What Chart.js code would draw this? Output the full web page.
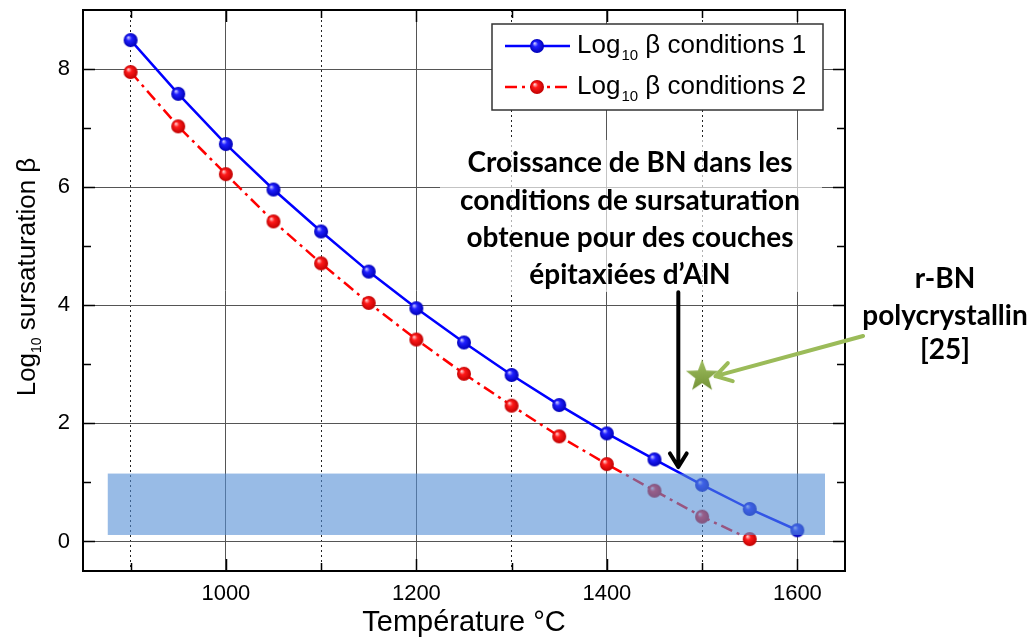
<!DOCTYPE html>
<html>
<head>
<meta charset="utf-8">
<script src="https://cdn.jsdelivr.net/npm/chart.js@4.4.1/dist/chart.umd.min.js"></script>
<style>
  html, body { margin: 0; padding: 0; background: #fff; }
  #wrap { width: 1034px; height: 642px; }
</style>
</head>
<body>
<div id="wrap"><canvas id="chart" width="1034" height="642"></canvas></div>
<script>
// values
const temperatures = [900, 950, 1000, 1050, 1100, 1150, 1200, 1250, 1300, 1350, 1400, 1450, 1500, 1550, 1600];
const logBetaConditions1 = [8.49, 7.58, 6.73, 5.96, 5.25, 4.57, 3.95, 3.37, 2.82, 2.31, 1.83, 1.39, 0.96, 0.55, 0.19];
const logBetaConditions2 = [7.95, 7.03, 6.22, 5.42, 4.71, 4.04, 3.42, 2.84, 2.30, 1.78, 1.31, 0.86, 0.42, 0.04];
const seriesNames = ['conditions 1', 'conditions 2'];
const xMajorTicks = [1000, 1200, 1400, 1600];
const xMinorTicks = [900, 1100, 1300, 1500];
const yMajorTicks = [0, 2, 4, 6, 8];
const yMinorTicks = [1, 3, 5, 7];
const rbnTemperature = [1500];
const rbnLogBeta = [2.8];
const bandTemperatures = [876, 1629];
const bandLogBeta = [0.11, 1.15];
const growthNote = ['Croissance de BN dans les', 'conditions de sursaturation', 'obtenue pour des couches', 'épitaxiées d\u2019AlN'];
const rbnNote = ['r-BN', 'polycrystallin', '[25]'];

const AXIS_FONT = '"Liberation Sans", Arial, sans-serif';
const NOTE_FONT = 'Lato, "Open Sans", sans-serif';

function sphere(light, base, dark, r) {
  const c = document.createElement('canvas');
  c.width = c.height = 2 * r + 2;
  const g = c.getContext('2d');
  const m = r + 1;
  const grad = g.createRadialGradient(m - r * 0.35, m - r * 0.4, r * 0.05, m, m, r);
  grad.addColorStop(0, light);
  grad.addColorStop(0.35, base);
  grad.addColorStop(1, dark);
  g.fillStyle = grad;
  g.beginPath();
  g.arc(m, m, r, 0, Math.PI * 2);
  g.fill();
  return c;
}

function starImage(R, r) {
  const size = 2 * R + 4;
  const c = document.createElement('canvas');
  c.width = c.height = size;
  const g = c.getContext('2d');
  const m = size / 2;
  g.beginPath();
  for (let i = 0; i < 10; i++) {
    const rad = i % 2 === 0 ? R : r;
    const a = -Math.PI / 2 + i * Math.PI / 5;
    const px = m + rad * Math.cos(a), py = m + rad * Math.sin(a);
    if (i === 0) g.moveTo(px, py); else g.lineTo(px, py);
  }
  g.closePath();
  const grad = g.createLinearGradient(0, 0, 0, size);
  grad.addColorStop(0, '#a3c263');
  grad.addColorStop(1, '#6b8a2e');
  g.fillStyle = grad;
  g.fill();
  return c;
}

const blueBall = sphere('#c8c8ff', '#2020ff', '#0000b8', 7);
const redBall = sphere('#ffd0d0', '#ff1a1a', '#c00000', 7);
const greenStar = starImage(17, 7);

function arrow(ctx, x1, y1, x2, y2, color, width, head) {
  const a = Math.atan2(y2 - y1, x2 - x1);
  ctx.save();
  ctx.strokeStyle = color;
  ctx.lineWidth = width;
  ctx.lineCap = 'round';
  ctx.lineJoin = 'round';
  ctx.beginPath();
  ctx.moveTo(x1, y1);
  ctx.lineTo(x2, y2);
  ctx.moveTo(x2 - head * Math.cos(a - 0.55), y2 - head * Math.sin(a - 0.55));
  ctx.lineTo(x2, y2);
  ctx.lineTo(x2 - head * Math.cos(a + 0.55), y2 - head * Math.sin(a + 0.55));
  ctx.stroke();
  ctx.restore();
}

const overlay = {
  id: 'overlay',
  afterDatasetsDraw(chart) {
    const ctx = chart.ctx;
    const xs = chart.scales.x, ys = chart.scales.y;
    const area = chart.chartArea;

    // growth window band, drawn over the curves
    const bx1 = xs.getPixelForValue(bandTemperatures[0]);
    const bx2 = xs.getPixelForValue(bandTemperatures[1]);
    const by1 = ys.getPixelForValue(bandLogBeta[1]);
    const by2 = ys.getPixelForValue(bandLogBeta[0]);
    ctx.save();
    ctx.fillStyle = 'rgba(83, 141, 213, 0.6)';
    ctx.fillRect(bx1, by1, bx2 - bx1, by2 - by1);
    ctx.restore();

    // frame with inner ticks
    ctx.save();
    ctx.strokeStyle = '#000';
    ctx.lineWidth = 2;
    ctx.strokeRect(area.left, area.top, area.right - area.left, area.bottom - area.top);
    ctx.lineWidth = 1.5;
    ctx.beginPath();
    yMinorTicks.forEach(v => {
      const py = Math.round(ys.getPixelForValue(v)) + 0.5;
      ctx.moveTo(area.left, py); ctx.lineTo(area.left + 8, py);
      ctx.moveTo(area.right, py); ctx.lineTo(area.right - 8, py);
    });
    yMajorTicks.forEach(v => {
      const py = Math.round(ys.getPixelForValue(v)) + 0.5;
      ctx.moveTo(area.left, py); ctx.lineTo(area.left + 12, py);
      ctx.moveTo(area.right, py); ctx.lineTo(area.right - 12, py);
    });
    xMajorTicks.forEach(v => {
      const px = Math.round(xs.getPixelForValue(v)) + 0.5;
      ctx.moveTo(px, area.bottom); ctx.lineTo(px, area.bottom - 12);
      ctx.moveTo(px, area.top); ctx.lineTo(px, area.top + 12);
    });
    xMinorTicks.forEach(v => {
      const px = Math.round(xs.getPixelForValue(v)) + 0.5;
      ctx.moveTo(px, area.bottom); ctx.lineTo(px, area.bottom - 8);
      ctx.moveTo(px, area.top); ctx.lineTo(px, area.top + 8);
    });
    ctx.stroke();
    ctx.restore();

    // note box
    ctx.save();
    ctx.fillStyle = 'rgba(255, 255, 255, 0.65)';
    ctx.fillRect(440, 140, 382, 152);
    ctx.fillStyle = '#000';
    ctx.font = 'bold 28px ' + NOTE_FONT;
    ctx.textAlign = 'center';
    ctx.textBaseline = 'middle';
    [163, 201, 238, 275].forEach((y, i) => ctx.fillText(growthNote[i], 630, y));
    ctx.font = 'bold 28px ' + NOTE_FONT;
    [279, 316, 350].forEach((y, i) => ctx.fillText(rbnNote[i], 945, y));
    ctx.restore();

    // arrows
    const ax = xs.getPixelForValue(1475);
    arrow(ctx, ax, ys.getPixelForValue(4.22), ax, ys.getPixelForValue(1.26), '#000', 4, 16);
    arrow(ctx, xs.getPixelForValue(1669), ys.getPixelForValue(3.48),
      xs.getPixelForValue(1514), ys.getPixelForValue(2.80), '#9bbb59', 4, 18);
  },
  afterDraw(chart) {
    const ctx = chart.ctx;
    // y title with subscript
    ctx.save();
    ctx.translate(28, 277);
    ctx.rotate(-Math.PI / 2);
    ctx.fillStyle = '#000';
    ctx.textBaseline = 'middle';
    const big = '26px ' + AXIS_FONT, small = '14px ' + AXIS_FONT;
    ctx.font = big;
    const w1 = ctx.measureText('Log').width;
    const w3 = ctx.measureText(' sursaturation \u03b2').width;
    ctx.font = small;
    const w2 = ctx.measureText('10').width;
    let x = -(w1 + w2 + w3) / 2;
    ctx.font = big; ctx.fillText('Log', x, 0); x += w1;
    ctx.font = small; ctx.fillText('10', x, 9); x += w2;
    ctx.font = big; ctx.fillText(' sursaturation \u03b2', x, 0);
    ctx.restore();

    // legend
    ctx.save();
    ctx.fillStyle = '#fff';
    ctx.fillRect(492, 24, 331, 86);
    ctx.strokeStyle = '#333';
    ctx.lineWidth = 1.5;
    ctx.strokeRect(492, 24, 331, 86);
    const rows = [
      { y: 46, color: '#0000ff', dash: [], img: blueBall, name: seriesNames[0] },
      { y: 87, color: '#ff0000', dash: [12, 5, 3, 5], img: redBall, name: seriesNames[1] }
    ];
    rows.forEach(r => {
      ctx.strokeStyle = r.color;
      ctx.lineWidth = 2.5;
      ctx.setLineDash(r.dash);
      ctx.beginPath();
      ctx.moveTo(505, r.y); ctx.lineTo(570, r.y);
      ctx.stroke();
      ctx.setLineDash([]);
      ctx.drawImage(r.img, 537 - r.img.width / 2, r.y - r.img.height / 2);
      ctx.fillStyle = '#000';
      ctx.textBaseline = 'middle';
      let tx = 577;
      ctx.font = '26px ' + AXIS_FONT;
      ctx.fillText('Log', tx, r.y); tx += ctx.measureText('Log').width + 1;
      ctx.font = '15px ' + AXIS_FONT;
      ctx.fillText('10', tx, r.y + 10); tx += ctx.measureText('10').width;
      ctx.font = '26px ' + AXIS_FONT;
      ctx.fillText(' \u03b2 ' + r.name, tx, r.y);
    });
    ctx.restore();
  }
};

const pointsOf = (xs, ys) => ys.map((y, i) => ({ x: xs[i], y }));
const noPad = s => { s.paddingTop = 0; s.paddingBottom = 0; s.paddingLeft = 0; s.paddingRight = 0; };

new Chart(document.getElementById('chart').getContext('2d'), {
  type: 'line',
  data: {
    datasets: [
      {
        label: 'Log10 \u03b2 ' + seriesNames[1],
        data: pointsOf(temperatures, logBetaConditions2),
        borderColor: '#ff0000',
        borderWidth: 2.5,
        borderDash: [12, 5, 3, 5],
        pointStyle: redBall,
        tension: 0
      },
      {
        label: 'Log10 \u03b2 ' + seriesNames[0],
        data: pointsOf(temperatures, logBetaConditions1),
        borderColor: '#0000ff',
        borderWidth: 2.5,
        pointStyle: blueBall,
        tension: 0
      },
      {
        label: 'r-BN polycrystallin [25]',
        data: pointsOf(rbnTemperature, rbnLogBeta),
        showLine: false,
        pointStyle: greenStar
      }
    ]
  },
  options: {
    responsive: false,
    animation: false,
    events: [],
    layout: { padding: { top: 10, right: 189, left: 0, bottom: 0 } },
    plugins: { legend: { display: false }, tooltip: { enabled: false } },
    scales: {
      x: {
        type: 'linear',
        min: 850,
        max: 1650,
        afterBuildTicks: s => { s.ticks = xMajorTicks.map(v => ({ value: v })); },
        afterFit: s => { s.height = 71; noPad(s); },
        grid: { color: '#555', lineWidth: 1, drawTicks: false },
        border: { display: false },
        ticks: {
          color: '#000', padding: 10, maxRotation: 0,
          font: { family: AXIS_FONT, size: 22 },
          callback: v => String(v)
        },
        title: {
          display: true,
          text: 'Température °C',
          color: '#000',
          padding: { top: 0, bottom: 2 },
          font: { family: AXIS_FONT, size: 29 }
        }
      },
      xMinor: {
        type: 'linear',
        position: 'top',
        min: 850,
        max: 1650,
        afterBuildTicks: s => { s.ticks = xMinorTicks.map(v => ({ value: v })); },
        afterFit: s => { s.height = 0; noPad(s); },
        grid: { color: '#222', lineWidth: 1, drawTicks: false },
        border: { display: false, dash: [2, 3] },
        ticks: { display: false }
      },
      y: {
        type: 'linear',
        min: -0.5,
        max: 9,
        afterBuildTicks: s => { s.ticks = yMajorTicks.map(v => ({ value: v })); },
        afterFit: s => { s.width = 83; noPad(s); },
        grid: { color: '#555', lineWidth: 1, drawTicks: false },
        border: { display: false },
        ticks: { color: '#000', padding: 13, font: { family: AXIS_FONT, size: 22 }, callback: v => String(v) }
      }
    }
  },
  plugins: [overlay]
});
</script>
</body>
</html>
